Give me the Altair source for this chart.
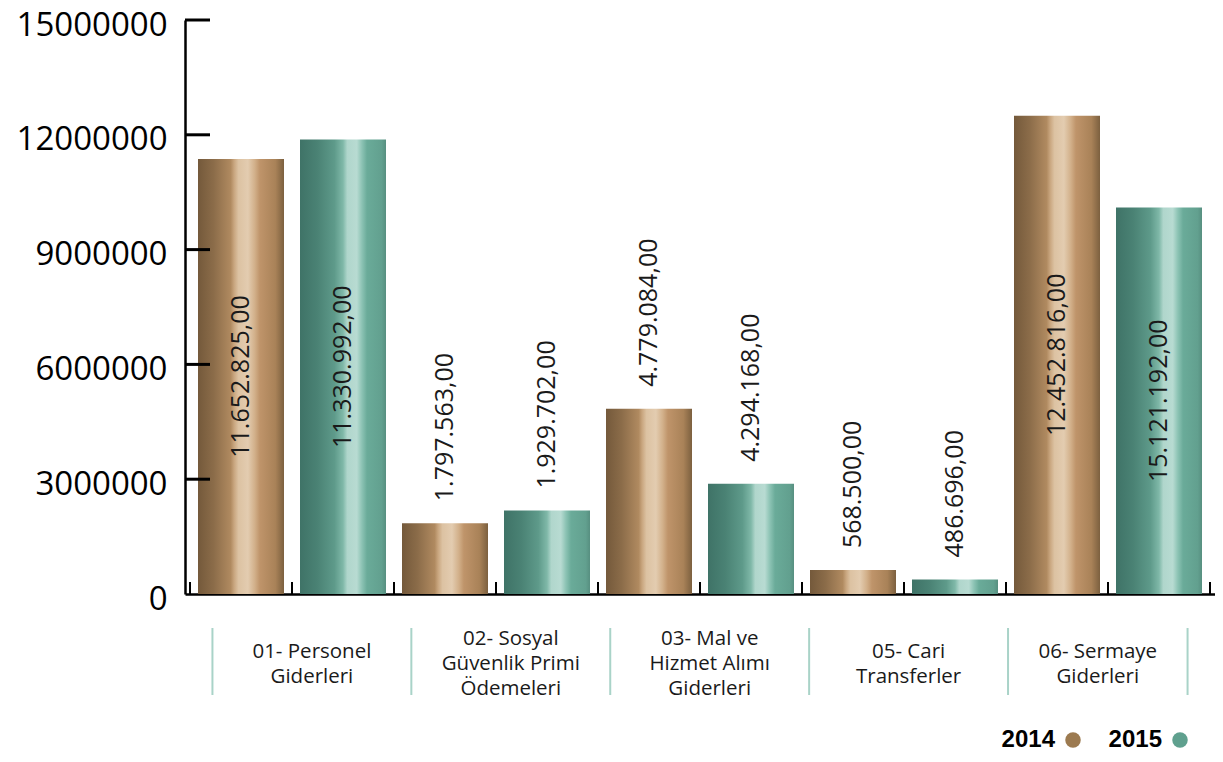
import altair as alt
import pandas as pd

# ---- data ----
categories = [
    "01- Personel\nGiderleri",
    "02- Sosyal\nGüvenlik Primi\nÖdemeleri",
    "03- Mal ve\nHizmet Alımı\nGiderleri",
    "05- Cari\nTransferler",
    "06- Sermaye\nGiderleri",
]
years = ["2014", "2015"]
values_2014 = [11370000, 1850000, 4840000, 625000, 12500000]
values_2015 = [11880000, 2180000, 2880000, 380000, 10100000]
labels_2014 = ["11.652.825,00", "1.797.563,00", "4.779.084,00", "568.500,00", "12.452.816,00"]
labels_2015 = ["11.330.992,00", "1.929.702,00", "4.294.168,00", "486.696,00", "15.121.192,00"]
y_ticks = [0, 3000000, 6000000, 9000000, 12000000, 15000000]

rows = []
for i, cat in enumerate(categories):
    for j, (yr, vals, labs) in enumerate(zip(years, [values_2014, values_2015], [labels_2014, labels_2015])):
        rows.append({"category": cat, "year": yr, "slot": 2 * i + j + 0.5,
                     "value": vals[i], "label": labs[i]})
df = pd.DataFrame(rows)

n_slots = 2 * len(categories)
bounds_df = pd.DataFrame({"slot": list(range(n_slots + 1))})
ticks_df = pd.DataFrame({"value": y_ticks[1:]})
# category separators (slightly inset band for the category label row)
seps = [0.22 + 1.95 * k for k in range(len(categories))] + [9.78]
sep_df = pd.DataFrame({"slot": seps})
cat_df = pd.DataFrame({"category": categories,
                       "slot": [(seps[k] + seps[k + 1]) / 2 for k in range(len(categories))]})

W, H = 1030, 574
FONT = "Open Sans"

xs = alt.Scale(domain=[0, n_slots], nice=False, zero=False)
ys = alt.Scale(domain=[0, 15000000], nice=False)


def grad(stops):
    return {"gradient": "linear", "x1": 0, "x2": 1, "y1": 0, "y2": 0,
            "stops": [{"offset": o, "color": c} for o, c in stops]}


brown = grad([(0, "#74593b"), (0.18, "#8b6c49"), (0.38, "#b08a60"), (0.42, "#c9a67f"),
              (0.47, "#dcc2a2"), (0.58, "#e3ccb0"), (0.66, "#d2b08a"), (0.72, "#bf946a"),
              (0.9, "#a98258"), (1, "#7c603f")])
teal = grad([(0, "#3f7367"), (0.2, "#4a8274"), (0.4, "#5e9a8a"), (0.5, "#7fb8a8"),
             (0.55, "#b0d6cc"), (0.66, "#b8dbd2"), (0.72, "#8cc3b4"), (0.78, "#6aab99"),
             (0.95, "#62a08f"), (1, "#578f80")])

y_axis = alt.Axis(values=y_ticks, format="d", tickSize=0, domainColor="black", domainWidth=2.5,
                  labelFontSize=33, labelFont=FONT, labelColor="black", labelPadding=18,
                  grid=False, title=None, labelOffset=5)
x_axis = alt.Axis(labels=False, ticks=False, grid=False, title=None,
                  domainColor="black", domainWidth=2.5)

X = alt.X("slot:Q", scale=xs, axis=x_axis)
Y = alt.Y("value:Q", scale=ys, axis=y_axis)

base = alt.Chart(df)

bars_2014 = base.transform_filter(alt.datum.year == "2014").mark_bar(size=86, color=brown).encode(
    x=X, y=Y)
bars_2015 = base.transform_filter(alt.datum.year == "2015").mark_bar(size=86, color=teal).encode(
    x=X, y=Y)

inside = base.transform_filter(alt.datum.value > 9000000).transform_calculate(
    mid="datum.value / 2").mark_text(
    angle=270, align="center", baseline="middle", fontSize=25, font=FONT, color="#1a1a1a"
).encode(
    x=X,
    y=alt.Y("mid:Q", scale=ys, axis=y_axis),
    text="label:N",
)
outside = base.transform_filter(alt.datum.value <= 9000000).mark_text(
    angle=270, align="left", baseline="middle", fontSize=25, font=FONT, color="#1a1a1a", dx=22
).encode(x=X, y=Y, text="label:N")

y_tick_rules = alt.Chart(ticks_df).mark_rule(color="black", strokeWidth=3).encode(
    y=Y, x=alt.value(0), x2=alt.value(25),
)
x_tick_rules = alt.Chart(bounds_df).mark_rule(color="black", strokeWidth=2).encode(
    x=X, y=alt.value(H), y2=alt.value(H - 12),
)
sep_rules = alt.Chart(sep_df).mark_rule(color="#a9d3c8", strokeWidth=2).encode(
    x=X, y=alt.value(H + 34), y2=alt.value(H + 101),
)

LH = 25
cat_layers = []
for nl in (2, 3):
    cat_layers.append(
        alt.Chart(cat_df).transform_calculate(
            n="length(split(datum.category, '\\n'))"
        ).transform_filter(alt.datum.n == nl).mark_text(
            lineBreak="\n", align="center", baseline="middle", fontSize=20.5, font=FONT,
            color="#1a1a1a", lineHeight=LH
        ).encode(
            x=X, y=alt.value(H + 70 - (nl - 1) * LH / 2), text="category:N",
        )
    )

LY = H + 146
leg_src = alt.Data(values=[{"k": 1}])
leg = []
for yr, col, xr in [("2014", "#9c7a50", 870), ("2015", "#5fa08e", 977)]:
    leg.append(alt.Chart(leg_src).mark_text(
        align="right", baseline="middle", fontSize=24, font="Liberation Sans",
        fontWeight="bold", color="black").encode(
        x=alt.value(xr), y=alt.value(LY), text=alt.value(yr)))
    leg.append(alt.Chart(leg_src).mark_point(
        filled=True, shape="circle", size=240, color=col, opacity=1).encode(
        x=alt.value(xr + 18), y=alt.value(LY)))

chart = alt.layer(
    bars_2014, bars_2015, inside, outside, y_tick_rules, x_tick_rules,
    sep_rules, *cat_layers, *leg
).properties(
    width=W, height=H,
    autosize=alt.AutoSizeParams(type="none"),
    padding={"left": 177, "top": 12, "right": 0, "bottom": 160},
).configure_view(stroke=None)

chart.save("out.html", embed_options={"renderer": "svg", "actions": False})
